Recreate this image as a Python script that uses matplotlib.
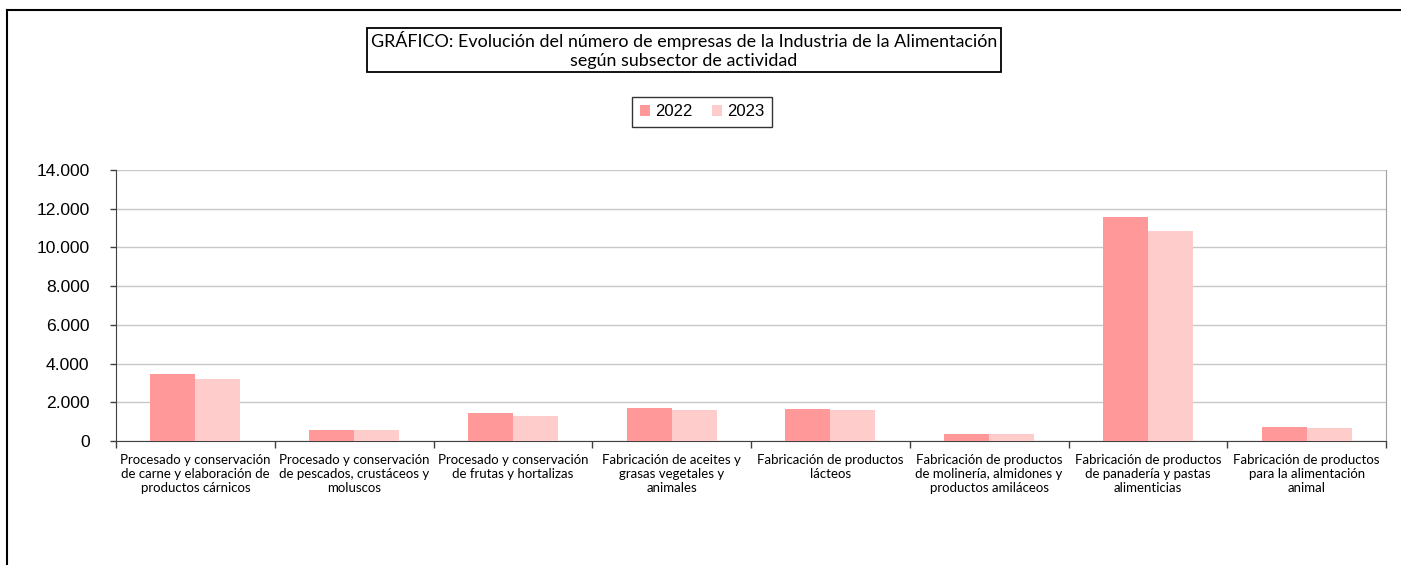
import numpy as np
import matplotlib.pyplot as plt
from matplotlib.ticker import FuncFormatter, FixedLocator

categories = [
    "Procesado y conservación\nde carne y elaboración de\nproductos cárnicos",
    "Procesado y conservación\nde pescados, crustáceos y\nmoluscos",
    "Procesado y conservación\nde frutas y hortalizas",
    "Fabricación de aceites y\ngrasas vegetales y\nanimales",
    "Fabricación de productos\nlácteos",
    "Fabricación de productos\nde molinería, almidones y\nproductos amiláceos",
    "Fabricación de productos\nde panadería y pastas\nalimenticias",
    "Fabricación de productos\npara la alimentación\nanimal",
]
years = ["2022", "2023"]
empresas_2022 = [3480, 585, 1450, 1725, 1675, 380, 11550, 740]
empresas_2023 = [3220, 550, 1310, 1605, 1620, 340, 10870, 690]

fig = plt.figure(figsize=(14.01, 5.65), dpi=100)
ax = fig.add_axes([116 / 1401, 1 - 441 / 565, 1270 / 1401, 271 / 565])

x = np.arange(len(categories))
w = 0.283
ax.bar(x - w / 2, empresas_2022, w, color="#FF9999", label=years[0], zorder=3)
ax.bar(x + w / 2, empresas_2023, w, color="#FFCCCC", label=years[1], zorder=3)

ax.set_xlim(-0.5, len(categories) - 0.5)
ax.set_ylim(0, 14000)
ax.set_yticks(np.arange(0, 14001, 2000))
ax.yaxis.set_major_formatter(FuncFormatter(lambda v, p: f"{int(v):,}".replace(",", ".")))
ax.grid(axis="y", color="#C8C8C8", linewidth=1, zorder=0)
for lab in ax.get_yticklabels():
    lab.set_fontfamily("Liberation Sans")
    lab.set_fontsize(12.6)
ax.tick_params(axis="y", length=4, width=1, color="#404040", pad=15)

# labels at centres, tick marks at category boundaries
ax.set_xticks(x)
ax.set_xticklabels(categories, fontfamily="Lato", fontsize=9.5, linespacing=1.25)
ax.tick_params(axis="x", which="major", length=0, pad=9)
ax.xaxis.set_minor_locator(FixedLocator(np.arange(-0.5, len(categories), 1)))
ax.tick_params(axis="x", which="minor", length=5, width=1, color="#404040")

for side in ["left", "bottom"]:
    ax.spines[side].set_color("#404040")
ax.spines["right"].set_color("#A0A0A0")
ax.spines["top"].set_visible(False)

# title box
fig.text(684 / 1401, 1 - 50 / 565,
         "GRÁFICO: Evolución del número de empresas de la Industria de la Alimentación\nsegún subsector de actividad",
         ha="center", va="center", fontfamily="Lato", fontsize=12.9, linespacing=1.2,
         bbox=dict(boxstyle="square,pad=0.2", facecolor="white", edgecolor="black", linewidth=1.3))

leg = fig.legend(loc="center", bbox_to_anchor=(702 / 1401, 1 - 112 / 565), ncol=2,
                 prop={"family": "Liberation Sans", "size": 12}, frameon=True, fancybox=False,
                 edgecolor="black", handlelength=0.6, handleheight=0.6, handletextpad=0.3,
                 columnspacing=1.2, borderpad=0.45)
leg.get_frame().set_linewidth(1)

# outer frame (top and left)
fig.add_artist(plt.Line2D([7 / 1401, 1], [1 - 10 / 565, 1 - 10 / 565], color="black", lw=1.5))
fig.add_artist(plt.Line2D([7 / 1401, 7 / 1401], [0, 1 - 10 / 565], color="black", lw=1.5))

fig.savefig("out.png", dpi=100)
